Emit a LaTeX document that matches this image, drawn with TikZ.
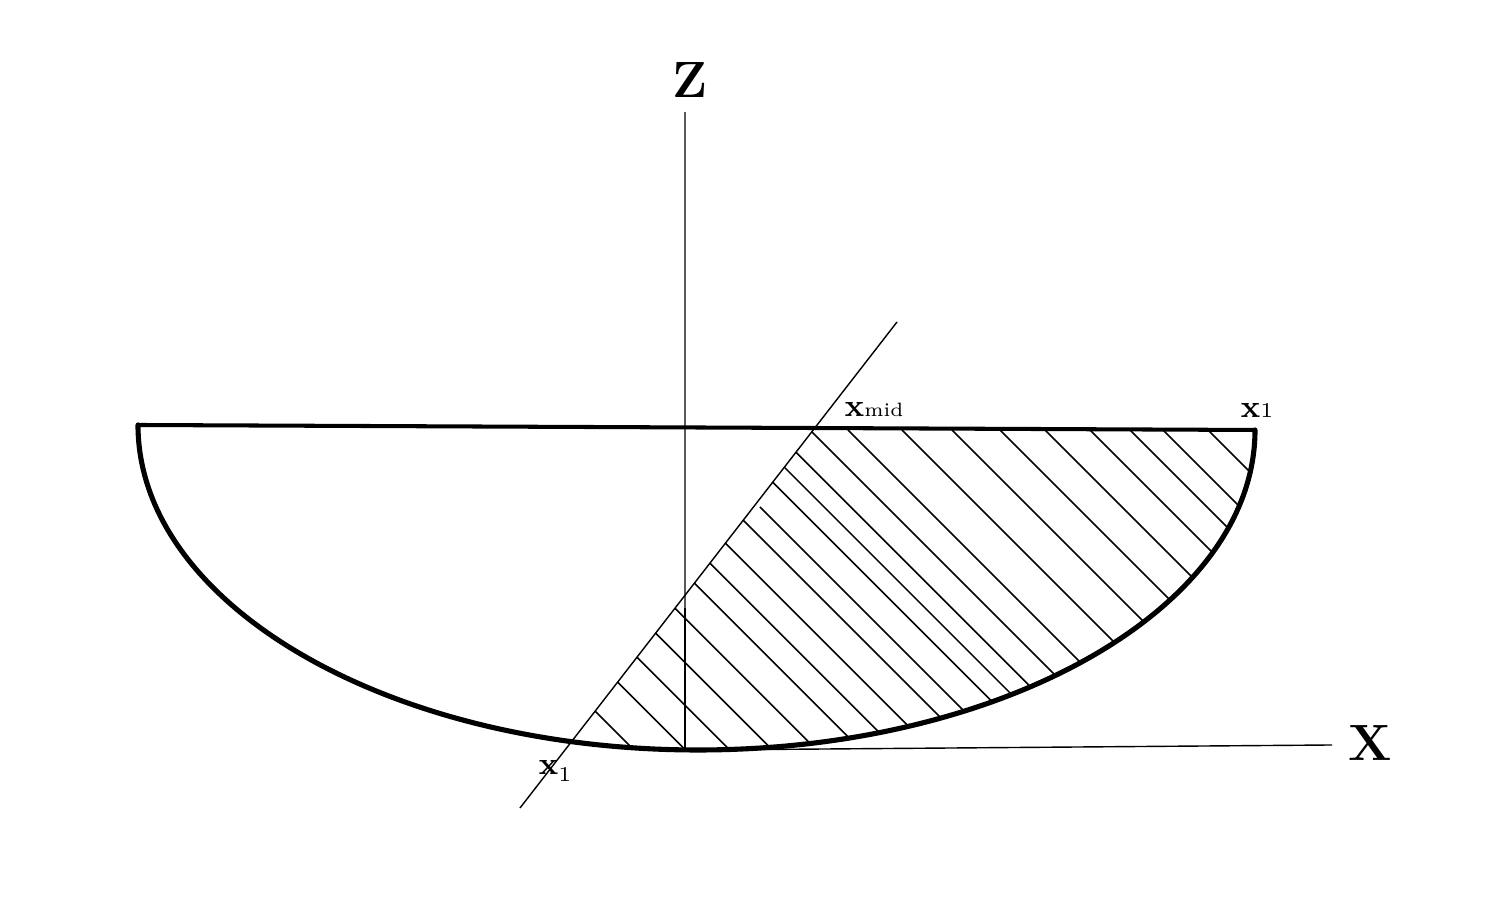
\documentclass[tikz,border=0pt]{standalone}
\begin{document}
\begin{tikzpicture}[x=0.01cm,y=0.01cm,
  thinline/.style={line width=0.4pt,black},
  hatchline/.style={line width=0.45pt,black},
  bowlline/.style={line width=1.45pt,black,line cap=round,line join=round},
  rimline/.style={line width=1.15pt,black},
  biglabel/.style={font=\fontsize{14.5}{16}\selectfont\bfseries,inner sep=0pt},
  smalllabel/.style={inner sep=0pt}]
\useasboundingbox (0,0) rectangle (1485,898);
% key points
\coordinate (L) at (138,473);
\coordinate (R) at (1255,468);
\coordinate (B) at (698,148);
\coordinate (ztop) at (685,786);
\coordinate (zbot) at (685,148);
\coordinate (zmid) at (685,290);
\coordinate (xstart) at (700,148);
\coordinate (xend) at (1332,153);
\coordinate (dstart) at (520,90);
\coordinate (dend) at (897,576);
% hatching: parallel lines from their start points (picture pixels, y downwards)
\begin{scope}
  \clip (L) arc[start angle=180,end angle=270,x radius=560,y radius=325]
            arc[start angle=270,end angle=360,x radius=557,y radius=320] -- cycle;
  \foreach \a/\b in {594.9/711, 617.4/682, 636.8/657, 655.4/633, 674.8/608,
    694.2/583, 709.7/563, 725.2/543, 743/520, 760/507, 772.5/482, 784.1/467,
    795.8/452, 812/432, 848/430, 902/430, 952/430, 1000/430, 1045/430,
    1090/430, 1130/430, 1163/430, 1208/430}{
    \draw[hatchline] (\a,898-\b) -- (\a+400,498-\b);
  }
\end{scope}
% axes
\draw[line width=0.4pt,black!65] (ztop) -- (zmid);
\draw[line width=0.8pt] (zmid) -- (zbot);
\draw[thinline] (xstart) -- (xend);
\draw[thinline] (dstart) -- (dend);
% rim and bowl
\draw[rimline] (L) -- (R);
\draw[bowlline] (L) arc[start angle=180,end angle=270,x radius=560,y radius=325]
                    arc[start angle=270,end angle=360,x radius=557,y radius=320];
% labels
\node[biglabel] (zlab) at (690,818) {Z};
\node[biglabel] (xlab) at (1370,155) {X};
\node[smalllabel] (xmidlab) at (874,488) {{\fontsize{9}{10}\selectfont\bfseries x}{\fontsize{5.5}{6}\selectfont mid}};
\node[smalllabel] (xonelab) at (1257,488) {{\fontsize{9}{10}\selectfont\bfseries x}{\fontsize{6}{7}\selectfont 1}};
\node[smalllabel] (xonelabb) at (555,127) {{\fontsize{9}{10}\selectfont\bfseries x}\raisebox{-2pt}{\fontsize{6}{7}\selectfont 1}};
\end{tikzpicture}
\end{document}
